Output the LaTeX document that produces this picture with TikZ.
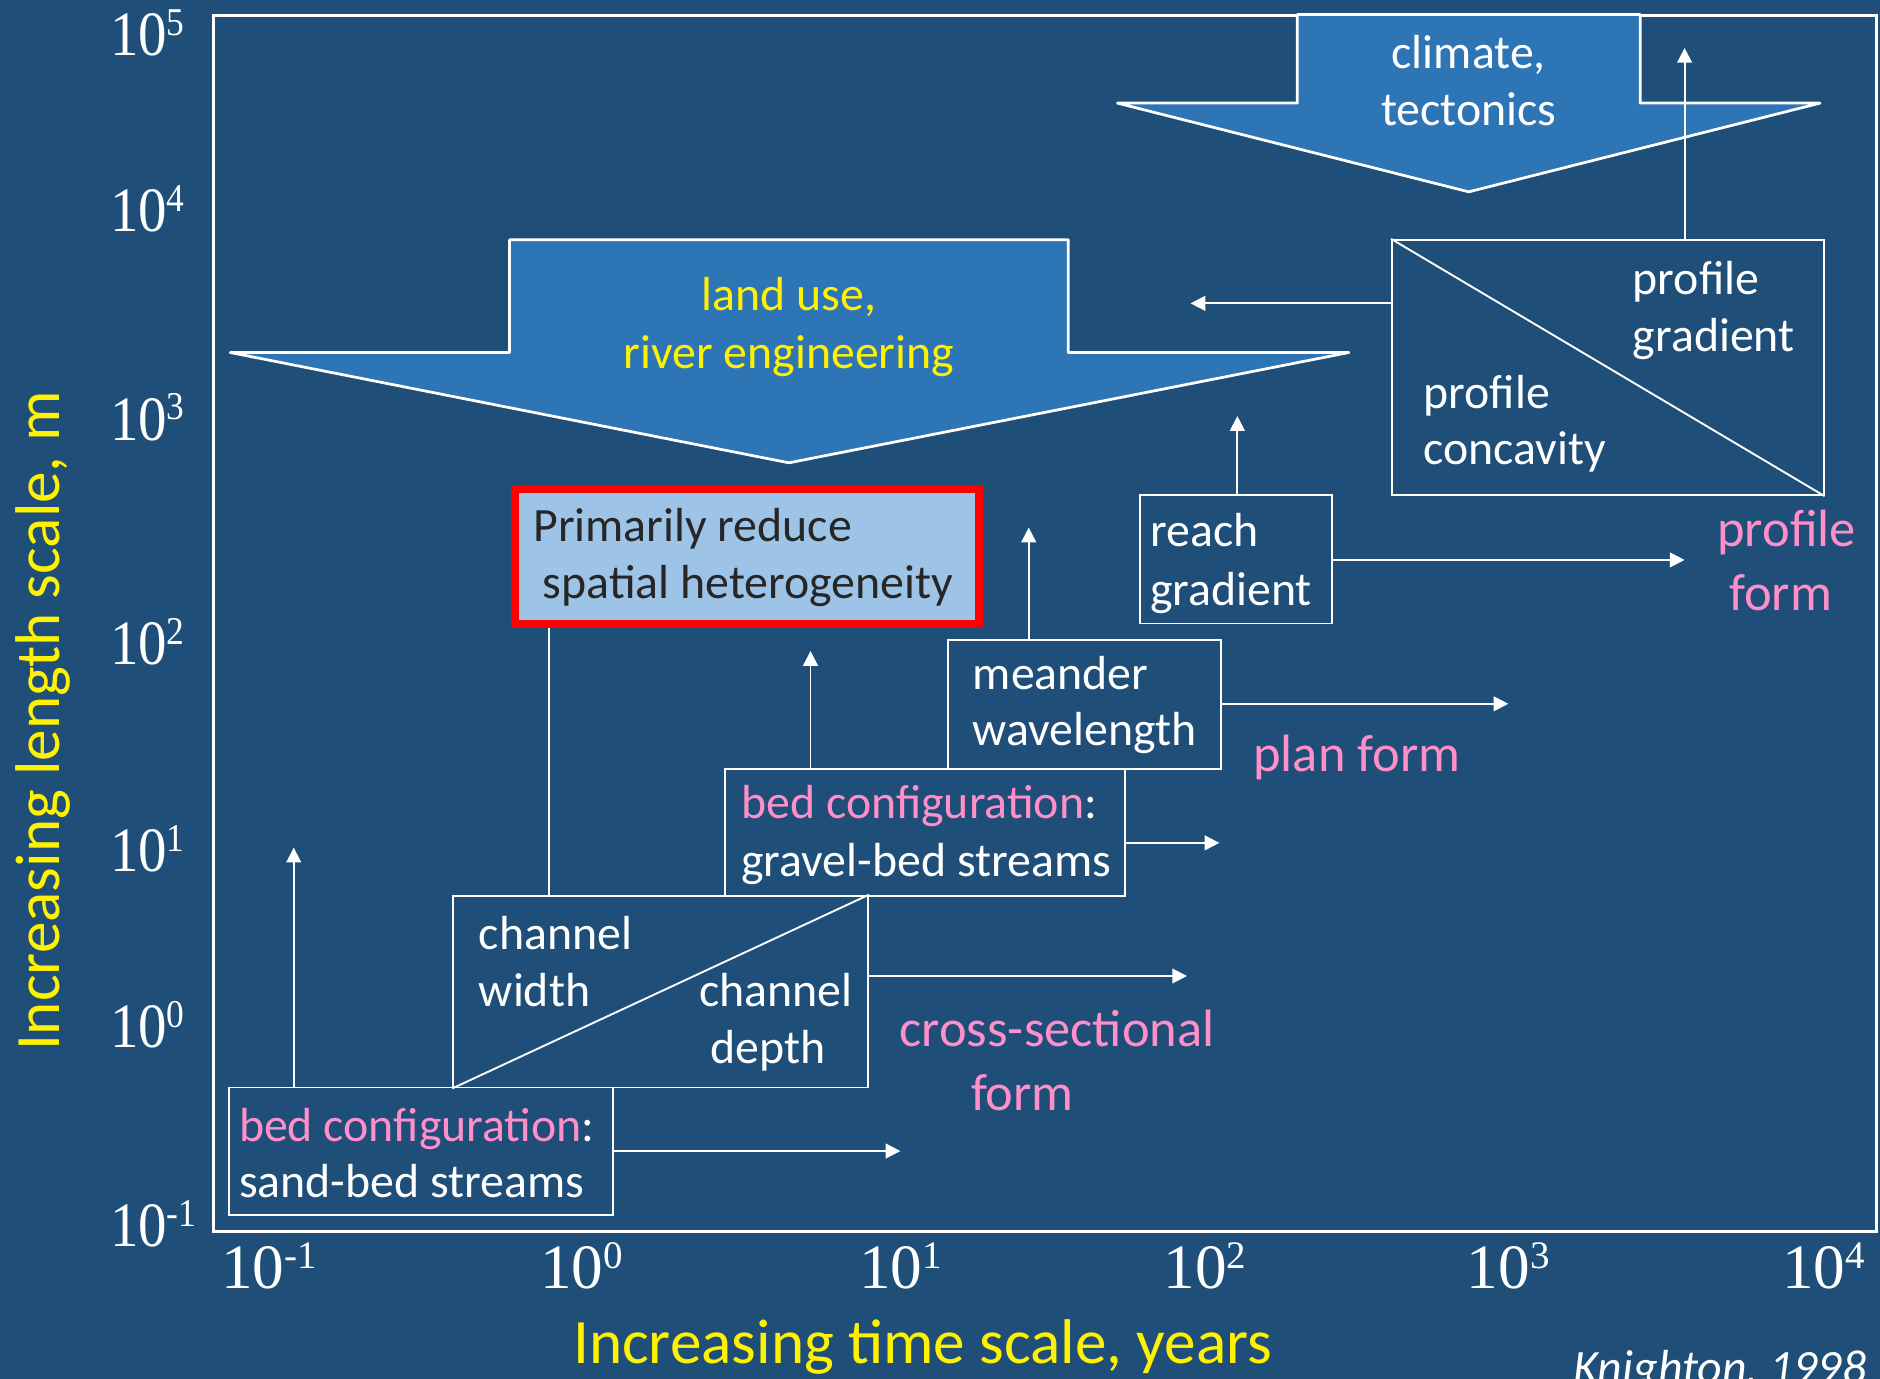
\documentclass[tikz,border=0pt]{standalone}
\usepackage{fontspec}
\setmainfont{Carlito}
\newfontfamily\tickfont{Liberation Serif}
\newfontfamily\tickfontn{Liberation Serif}[FakeStretch=0.9]
\usetikzlibrary{arrows.meta,fit}
\definecolor{bg}{HTML}{1F4E79}
\definecolor{blk}{HTML}{2E75B6}
\definecolor{lblue}{HTML}{9DC3E6}
\definecolor{pinkc}{HTML}{FF8FC8}
\definecolor{dtext}{HTML}{262626}
\newcommand{\ytk}[1]{{\tickfontn\fontsize{30}{30}\selectfont 10\raisebox{9.8pt}{\fontsize{18.7}{18.7}\selectfont #1}}}
\newcommand{\xtk}[1]{{\tickfont\fontsize{30}{30}\selectfont 10\raisebox{9.4pt}{\fontsize{18.5}{18.5}\selectfont #1}}}
\begin{document}
\begin{tikzpicture}[x=0.02cm, y=-0.02cm,
  boxs/.style={draw=white, line width=0.9pt, inner sep=0pt},
  conn/.style={draw=white, line width=0.9pt},
  arr/.style={conn, -{Triangle[length=7pt,width=7pt]}},
  blockarr/.style={draw=white, fill=blk, line width=1.3pt, line join=round},
  wtxt/.style={text=white, font=\fontsize{22.7}{27}\selectfont, inner sep=0pt, anchor=base west},
  ctxt/.style={wtxt, anchor=base},
  ptxt/.style={text=pinkc, font=\fontsize{24.9}{30}\selectfont, inner sep=0pt, anchor=base west},
  tick/.style={text=white, inner sep=0pt, anchor=base west},
  title/.style={text=yellow, font=\fontsize{30}{36}\selectfont, inner sep=0pt, anchor=base}]

% background and bounding box
\fill[bg] (0,0) rectangle (1568,1150);
\useasboundingbox (0,0) rectangle (1568,1150);

% plot frame
\draw[white, line width=1.2pt] (178,13) rectangle (1565,1027);

% y tick labels
\node[tick] (y5) at (91.4,46.7) {\ytk{5}};
\node[tick] (y4) at (91.4,193.2) {\ytk{4}};
\node[tick] (y3) at (91.4,367) {\ytk{3}};
\node[tick] (y2) at (91.4,554.6) {\ytk{2}};
\node[tick] (y1) at (91.4,727) {\ytk{1}};
\node[tick] (y0) at (91.4,874) {\ytk{0}};
\node[tick] (ym1) at (91.4,1040) {\ytk{-1}};

% x tick labels
\node[tick] (xm1) at (184.1,1074.5) {\xtk{-1}};
\node[tick] (x0) at (450.1,1074.5) {\xtk{0}};
\node[tick] (x1) at (716.1,1074.5) {\xtk{1}};
\node[tick] (x2) at (970.1,1074.5) {\xtk{2}};
\node[tick] (x3) at (1223.1,1074.5) {\xtk{3}};
\node[tick] (x4) at (1486.1,1074.5) {\xtk{4}};

% axis titles
\node[title, rotate=90] (ytitle) at (50,601.5) {Increasing length scale, m};
\node[title] (xtitle) at (769.5,1137) {Increasing time scale, years};
\node[text=white, font=\fontsize{22.7}{27}\selectfont\itshape, inner sep=0pt, anchor=base west] (cite) at (1312,1154) {Knighton, 1998};

% block arrows
\draw[blockarr] (1082,12) -- (1368,12) -- (1368,86) -- (1518,86) -- (1225,160) -- (932,86) -- (1082,86) -- cycle;
\node[ctxt] (clim1) at (1225,57) {climate,};
\node[ctxt] (clim2) at (1225,105) {tectonics};

\draw[blockarr] (425,200) -- (891,200) -- (891,294) -- (1125,294) -- (658,386) -- (192,294) -- (425,294) -- cycle;
\node[ctxt, text=yellow] (land1) at (658,259) {land use,};
\node[ctxt, text=yellow] (land2) at (658,307) {river engineering};

% red highlighted box
\node[draw=red, line width=3.97pt, fill=lblue, inner sep=0pt, fit={(429.5,408) (816.5,520.5)}] (red) {};
\node[wtxt, text=dtext] (red1) at (444.5,452) {Primarily reduce};
\node[wtxt, text=dtext] (red2) at (452.5,499) {spatial heterogeneity};

% boxes
\node[boxs, fit={(191,907) (511,1013)}] (sand) {};
\node[wtxt] (sand1) at (199,952) {\textcolor{pinkc}{bed configuration}:};
\node[wtxt] (sand2) at (199,999) {sand-bed streams};

\node[boxs, fit={(378,747) (724,907)}] (chan) {};
\draw[conn] (chan.south west) -- (chan.north east);
\node[wtxt] (chw1) at (399,791.5) {channel};
\node[wtxt] (chw2) at (399,839.6) {width};
\node[wtxt] (chd1) at (583,839.6) {channel};
\node[wtxt] (chd2) at (592,886.7) {depth};

\node[boxs, fit={(605,641) (938,747)}] (grav) {};
\node[wtxt] (grav1) at (618,682.5) {\textcolor{pinkc}{bed configuration}:};
\node[wtxt] (grav2) at (618,731) {gravel-bed streams};

\node[boxs, fit={(791,534) (1018,641)}] (mean) {};
\node[wtxt] (mean1) at (811,575) {meander};
\node[wtxt] (mean2) at (811,622) {wavelength};

\node[boxs, fit={(951,413) (1111,520)}] (reach) {};
\node[wtxt] (reach1) at (959,456) {reach};
\node[wtxt] (reach2) at (959,504.6) {gradient};

\node[boxs, fit={(1161,200) (1521,413)}] (prof) {};
\draw[conn] (prof.north west) -- (prof.south east);
\node[wtxt] (pg1) at (1361.5,246) {profile};
\node[wtxt] (pg2) at (1361.5,293.3) {gradient};
\node[wtxt] (pc1) at (1187,340.5) {profile};
\node[wtxt] (pc2) at (1187,387.8) {concavity};

% pink category labels
\node[ptxt] (cs1) at (750,873) {cross-sectional};
\node[ptxt] (cs2) at (809.5,925.8) {form};
\node[ptxt] (plan) at (1045,643.6) {plan form};
\node[ptxt] (pf1) at (1432,456) {profile};
\node[ptxt] (pf2) at (1442,508.8) {form};

% connectors
\coordinate (e1) at (751,960);
\draw[arr] (sand.east |- e1) -- (e1);
\coordinate (e2) at (245,707);
\draw[arr] (sand.north -| e2) -- (e2);
\coordinate (e3) at (990,814);
\draw[arr] (chan.east |- e3) -- (e3);
\coordinate (l1) at (458,0);
\draw[conn] (red.south -| l1) -- (chan.north -| l1);
\coordinate (e4) at (1017,703);
\draw[arr] (grav.east |- e4) -- (e4);
\coordinate (e5) at (676,543);
\draw[arr] (grav.north -| e5) -- (e5);
\coordinate (e6) at (1258,587);
\draw[arr] (mean.east |- e6) -- (e6);
\coordinate (e7) at (858,440);
\draw[arr] (mean.north -| e7) -- (e7);
\coordinate (e8) at (1405,467);
\draw[arr] (reach.east |- e8) -- (e8);
\coordinate (e9) at (1032,347);
\draw[arr] (reach.north -| e9) -- (e9);
\coordinate (e10) at (993,253);
\draw[arr] (prof.west |- e10) -- (e10);
\coordinate (e11) at (1405,40);
\draw[arr] (prof.north -| e11) -- (e11);
\end{tikzpicture}
\end{document}
